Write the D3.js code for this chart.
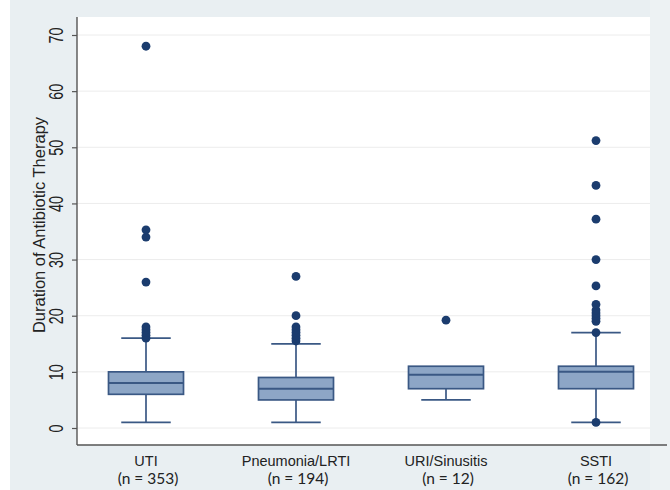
<!DOCTYPE html>
<html><head><meta charset="utf-8">
<script src="https://cdn.jsdelivr.net/npm/d3@7"></script>
<style>
body{margin:0;padding:0;background:#fff;}
svg{display:block;font-family:"Liberation Sans",Arial,sans-serif;}
</style></head>
<body><svg id="c" width="670" height="490"></svg>
<script>
const categories = ["UTI", "Pneumonia/LRTI", "URI/Sinusitis", "SSTI"];
const sampleSizes = ["(n = 353)", "(n = 194)", "(n = 12)", "(n = 162)"];
const q1 = [6, 5, 7, 7];
const medians = [8, 7, 9.5, 10];
const q3 = [10, 9, 11, 11];
const whiskerLow = [1, 1, 5, 1];
const whiskerHigh = [16, 15, 11, 17];
const outliers = [
  [16, 16.5, 17, 17.5, 18, 26, 34, 35.3, 68],
  [15.5, 16, 16.5, 17, 17.5, 18, 20, 27],
  [19.2],
  [1, 17, 19, 19.5, 20, 20.5, 21, 22, 25.3, 30, 37.2, 43.2, 51.2]
];
const yTicks = [0, 10, 20, 30, 40, 50, 60, 70];

const svg = d3.select("#c");
svg.append("rect").attr("x",10).attr("y",0).attr("width",660).attr("height",490).attr("fill","#e9eff2");
svg.append("rect").attr("x",650).attr("y",0).attr("width",20).attr("height",490).attr("fill","#edf2f3");

const pL = 77, pR = 650, pT = 17, pB = 445;
svg.append("rect").attr("x",pL).attr("y",pT).attr("width",pR-pL).attr("height",pB-pT).attr("fill","#ffffff");

const y = d3.scaleLinear().domain([0,70]).range([428,35]);
const x = d3.scaleBand().domain(categories).range([77,665]).paddingInner(0.5).paddingOuter(0.21);

// gridlines
svg.append("g").selectAll("line").data(yTicks).join("line")
  .attr("x1",pL).attr("x2",pR).attr("y1",d=>y(d)).attr("y2",d=>y(d))
  .attr("stroke","#ececec").attr("stroke-width",1);

// y axis
const yAxis = d3.axisLeft(y).tickValues(yTicks).tickSize(5).tickPadding(8);
const gy = svg.append("g").attr("transform",`translate(${pL},0)`).call(yAxis);
gy.select(".domain").remove();
gy.selectAll(".tick line").attr("stroke","#555").attr("stroke-width",1.2);
gy.selectAll(".tick text").attr("transform","rotate(-90) scale(0.72,1)").attr("x",0).attr("y",-14)
  .attr("text-anchor","middle").attr("dy","0").style("font-size","20px").attr("fill","#222");
svg.append("line").attr("x1",pL).attr("x2",pL).attr("y1",pT).attr("y2",pB).attr("stroke","#555").attr("stroke-width",1.4);
svg.append("line").attr("x1",pL).attr("x2",667).attr("y1",pB).attr("y2",pB).attr("stroke","#555").attr("stroke-width",1.4);

svg.append("text").attr("transform",`translate(45,225) rotate(-90)`)
  .attr("text-anchor","middle").style("font-size","16.5px").attr("fill","#222")
  .text("Duration of Antibiotic Therapy");

// x labels
const xAxis = d3.axisBottom(x).tickSize(0).tickPadding(0);
const gx = svg.append("g").attr("transform",`translate(0,${pB})`).call(xAxis);
gx.select(".domain").remove();
gx.selectAll(".tick text").remove();
gx.selectAll(".tick").each(function(d,i){
  const t = d3.select(this);
  t.append("text").attr("text-anchor","middle").attr("x",0).attr("y",20.5)
    .style("font-size","14.5px").attr("fill","#222").text(categories[i]);
  t.append("text").attr("text-anchor","middle").attr("x",2).attr("y",38.5)
    .style("font-family","Lato, 'Liberation Sans', sans-serif").style("font-size","15.5px").attr("fill","#222").text(sampleSizes[i]);
});

const stroke = "#3a5884", fill = "#8da6c6", dot = "#1b3c6e";
const bw = x.bandwidth(), cap = bw*0.66;
const g = svg.append("g");
categories.forEach((c,i)=>{
  const cx = x(c)+bw/2;
  g.append("line").attr("x1",cx).attr("x2",cx).attr("y1",y(q3[i])).attr("y2",y(whiskerHigh[i])).attr("stroke",stroke).attr("stroke-width",1.7);
  g.append("line").attr("x1",cx).attr("x2",cx).attr("y1",y(q1[i])).attr("y2",y(whiskerLow[i])).attr("stroke",stroke).attr("stroke-width",1.7);
  if (whiskerHigh[i] > q3[i])
    g.append("line").attr("x1",cx-cap/2).attr("x2",cx+cap/2).attr("y1",y(whiskerHigh[i])).attr("y2",y(whiskerHigh[i])).attr("stroke",stroke).attr("stroke-width",1.7);
  g.append("line").attr("x1",cx-cap/2).attr("x2",cx+cap/2).attr("y1",y(whiskerLow[i])).attr("y2",y(whiskerLow[i])).attr("stroke",stroke).attr("stroke-width",1.7);
  g.append("rect").attr("x",x(c)).attr("width",bw).attr("y",y(q3[i])).attr("height",y(q1[i])-y(q3[i]))
    .attr("fill",fill).attr("stroke",stroke).attr("stroke-width",1.7);
  g.append("line").attr("x1",x(c)).attr("x2",x(c)+bw).attr("y1",y(medians[i])).attr("y2",y(medians[i])).attr("stroke",stroke).attr("stroke-width",2);
  g.selectAll(null).data(outliers[i]).join("circle")
    .attr("cx",cx).attr("cy",d=>y(d)).attr("r",4.4).attr("fill",dot);
});
</script></body></html>
